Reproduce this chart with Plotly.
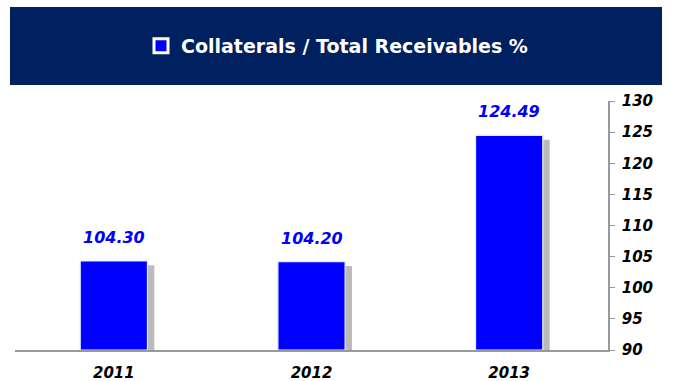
import plotly.graph_objects as go

years = ["2011", "2012", "2013"]
values = [104.30, 104.20, 124.49]
value_labels = ["104.30", "104.20", "124.49"]
y_ticks = [90, 95, 100, 105, 110, 115, 120, 125, 130]
series_name = "Collaterals / Total Receivables %"

FONT = "DejaVu Sans"

fig = go.Figure()

# drop shadow
fig.add_trace(go.Bar(
    x=years, y=[v - 0.7 - 89.0 for v in values], base=89.0,
    width=0.34, offset=-0.17 + 0.035,
    marker=dict(color="rgba(120,120,120,0.5)", line=dict(width=0)),
    showlegend=False, hoverinfo="skip",
))

fig.add_trace(go.Bar(
    x=years, y=[v - 90 for v in values], base=90,
    width=0.34, offset=-0.17,
    name=series_name, showlegend=False,
    marker=dict(color="#0000FF", line=dict(color="#E6ECFF", width=1.2)),
))

# legend entry (white-bordered blue square like the reference)
fig.add_trace(go.Scatter(
    x=[None], y=[None], mode="markers", name=series_name,
    marker=dict(symbol="square", size=14, color="#0000FF", line=dict(color="white", width=3)),
))

for i, (v, lab) in enumerate(zip(values, value_labels)):
    fig.add_annotation(x=i, y=v, text=lab, showarrow=False, yanchor="bottom", yshift=12,
                       font=dict(family=FONT, size=16, color="#0000FF", weight="bold", style="italic"))

fig.update_layout(
    width=673, height=381,
    margin=dict(l=15, r=65, t=101, b=31, autoexpand=False),
    paper_bgcolor="white", plot_bgcolor="white",
    barmode="overlay",
    font=dict(family=FONT),
    showlegend=True,
    legend=dict(
        x=(337 - 15) / 593, y=1.0 - 46 / 381, yref="container", xanchor="center", yanchor="middle",
        orientation="h", bgcolor="rgba(0,0,0,0)",
        font=dict(family=FONT, size=19, color="white", weight="bold"),
        itemwidth=30,
    ),
)

fig.add_shape(type="rect", xref="paper", yref="paper",
              x0=-5 / 593, x1=(662 - 15) / 593, y0=1 + (101 - 85) / 249, y1=1 + (101 - 7) / 249,
              fillcolor="#002060", line=dict(width=0), layer="below")

fig.update_xaxes(
    type="category",
    showline=True, linecolor="#999999", linewidth=1.5,
    tickfont=dict(family=FONT, size=15, color="black", weight="bold", style="italic"),
    ticks="", showgrid=False, range=[-0.5, 2.5], automargin=False, ticklabelstandoff=8,
)
fig.update_yaxes(
    side="right", range=[90, 130], tickvals=y_ticks,
    showline=True, linecolor="#999999", linewidth=1.5,
    ticks="outside", ticklen=5, tickcolor="#999999",
    tickfont=dict(family=FONT, size=15, color="black", weight="bold", style="italic"),
    showgrid=False, zeroline=False, automargin=False, ticklabelstandoff=4,
)

fig.write_html("out.html")
